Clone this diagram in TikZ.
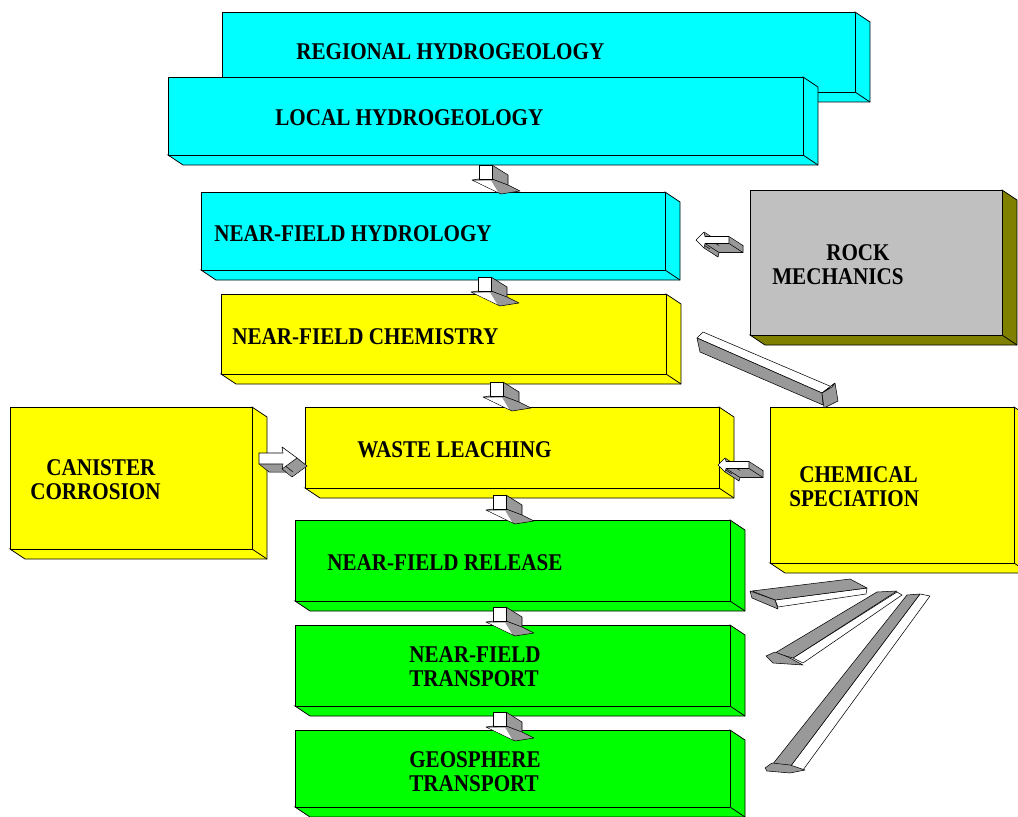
\documentclass[tikz,border=0pt]{standalone}
\usepackage{fontspec}
\setmainfont{Liberation Serif}[FakeStretch=0.88]
\definecolor{cy}{HTML}{00FFFF}
\definecolor{yl}{HTML}{FFFF00}
\definecolor{gr}{HTML}{00FF00}
\definecolor{rk}{HTML}{C0C0C0}
\definecolor{ol}{HTML}{808000}
\definecolor{arrgray}{HTML}{999999}
\tikzset{
  x=0.75pt, y=-0.75pt,
  edge/.style={draw=black, line width=0.6pt, line join=miter},
  lbl/.style={font=\fontsize{18}{18}\selectfont\bfseries, inner sep=0, anchor=base west},
  arr/.style={draw=black, line width=0.4pt, fill=arrgray, line join=round},
  arrw/.style={draw=black, line width=0.4pt, fill=white, line join=round},
  downarr/.pic={
    \path[arr] (13,0) -- (29,10) -- (29,21) -- (13,14) -- cycle;
    \path[arr] (-7,15) -- (22,29) -- (41,26) -- (29,20) -- (13,14) -- (0,14) -- cycle;
    \path[fill=white] (-4,16) -- (19,27.2) -- (12,15.5) -- cycle;
    \path[arrw] (0,0) -- (13,0) -- (13,14) -- (0,14) -- cycle;
  }
}
% 3D box: name, x1, y1, x2, y2, front colour, side colour
\newcommand\tdbox[7]{%
  \path[fill=#7, edge] (#4,#3) -- (#4+15,#3+10) -- (#4+15,#5+10) -- (#2+15,#5+10) -- (#2,#5) -- (#4,#5) -- cycle;
  \draw[edge] (#4,#5) -- (#4+15,#5+10);
  \node[edge, fill=#6, anchor=north west, inner sep=0, outer sep=0,
        minimum width={(#4-#2)*0.75pt}, minimum height={(#5-#3)*0.75pt}] (#1) at (#2,#3) {};
}
% extruded flat arrow: origin, first point, other points, dx, dy
\newcommand\prismarr[5]{%
  \begin{scope}[shift={#1}]
    \path[arr, shift={(#4,#5)}] #2 \foreach \p in {#3}{ -- \p } -- cycle;
    \foreach \t in {0.05,0.1,...,0.96}{
      \fill[arrgray, shift={(\t*#4,\t*#5)}] #2 \foreach \p in {#3}{ -- \p } -- cycle;
    }
    \foreach \p in {#2,#3}{ \draw[line width=0.4pt] \p -- ++(#4,#5); }
    \path[arrw] #2 \foreach \p in {#3}{ -- \p } -- cycle;
  \end{scope}
}
\begin{document}
\begin{tikzpicture}
\useasboundingbox (0,0) rectangle (1018,817);

% boxes
\tdbox{reg}{222}{12}{855}{92}{cy}{cy}
\tdbox{loc}{168}{77}{803}{155}{cy}{cy}
\tdbox{nfh}{201}{192}{665}{270}{cy}{cy}
\tdbox{rock}{750}{190}{1002}{335}{rk}{ol}
\tdbox{nfc}{221}{294}{666}{374}{yl}{yl}
\tdbox{can}{10}{407}{252}{549}{yl}{yl}
\tdbox{wl}{305}{407}{719}{488}{yl}{yl}
\tdbox{cs}{770}{407}{1014}{563}{yl}{yl}
\tdbox{nfr}{295}{520}{730}{601}{gr}{gr}
\tdbox{nft}{295}{625}{730}{706}{gr}{gr}
\tdbox{geo}{295}{730}{730}{807}{gr}{gr}

% labels
\node[lbl] (treg) at (296,60) {REGIONAL HYDROGEOLOGY};
\node[lbl] (tloc) at (275,126) {LOCAL HYDROGEOLOGY};
\node[lbl] (tnfh) at (214,241) {NEAR-FIELD HYDROLOGY};
\node[lbl] (trock1) at (826,260) {ROCK};
\node[lbl] (trock2) at (772,284) {MECHANICS};
\node[lbl] (tnfc) at (232,344) {NEAR-FIELD CHEMISTRY};
\node[lbl] (tcan1) at (46,475) {CANISTER};
\node[lbl] (tcan2) at (30,499) {CORROSION};
\node[lbl] (twl) at (357,457) {WASTE LEACHING};
\node[lbl] (tcs1) at (799,482) {CHEMICAL};
\node[lbl] (tcs2) at (789,506) {SPECIATION};
\node[lbl] (tnfr) at (327,570) {NEAR-FIELD RELEASE};
\node[lbl] (tnft1) at (409,662) {NEAR-FIELD};
\node[lbl] (tnft2) at (409,686) {TRANSPORT};
\node[lbl] (tgeo1) at (409,767) {GEOSPHERE};
\node[lbl] (tgeo2) at (409,791) {TRANSPORT};

% small downward arrows
\pic (d1) at (479,165) {downarr};
\pic (d2) at (478,277) {downarr};
\pic (d3) at (490,382) {downarr};
\pic (d4) at (493,495) {downarr};
\pic (d5) at (493,607) {downarr};
\pic (d6) at (493,712) {downarr};

% side arrows
\prismarr{(696,240)}{(0,0)}{(8,-8),(9,-3.5),(33,-3.5),(33,3.5),(9,3.5),(8,8)}{14}{9}
\prismarr{(718,465)}{(0,0)}{(7,-7),(8,-3.5),(31,-3.5),(31,3.5),(8,3.5),(7,7)}{14}{9}
\prismarr{(259,453)}{(0,0)}{(24,0),(23,-6),(38,5),(23,16),(24,11),(0,11)}{10}{8}

% long arrow near-field chemistry -> chemical speciation
\path[arrw] (697,338) -- (703,332) -- (832,387) -- (822,393) -- cycle;
\path[arr] (697,338) -- (822,393) -- (823,405) -- (700,352) -- cycle;
\path[arr] (822,393) -- (835,383) -- (838,401) -- (824,408) -- cycle;
\path[arrw] (822,393) -- (832,387) -- (835,383) -- cycle;

% long arrows from chemical speciation
\path[arrw] (775,600) -- (867,588) -- (866,594) -- (778,607) -- cycle;
\path[arr] (752,591) -- (850,579) -- (867,588) -- (775,600) -- cycle;
\path[arr] (750,591) -- (775,600) -- (778,609) -- (752,598) -- cycle;

\path[arrw] (897,592) -- (902,595) -- (803,663) -- (793,658) -- cycle;
\path[arr] (877,592) -- (897,591) -- (793,658) -- (775,653) -- cycle;
\path[arr] (766,656) -- (775,652) -- (788,657) -- (803,665) -- (773,663) -- cycle;

\path[arrw] (920,594) -- (930,596) -- (803,770) -- (790,767) -- cycle;
\path[arr] (907,595) -- (920,594) -- (790,767) -- (772,765) -- cycle;
\path[arr] (765,768) -- (772,763) -- (790,765) -- (805,770) -- (790,773) -- (767,771) -- cycle;
\end{tikzpicture}
\end{document}
